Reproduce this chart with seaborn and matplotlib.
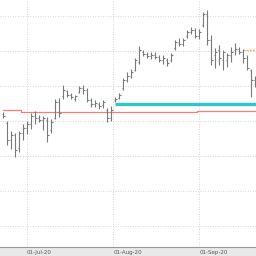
import numpy as np
import pandas as pd
import matplotlib
matplotlib.use("Agg")
import matplotlib.pyplot as plt
import seaborn as sns

# OHLC values (one per trading day)
opens = [21.0, 19.71, 17.29, 18.0, 16.14, 18.29, 19.0, 19.57, 20.71, 20.43,
         20.14, 20.14, 18.71, 20.43, 22.71, 23.57, 24.29, 23.71, 23.14, 24.14,
         24.71, 24.43, 23.0, 22.43, 22.43, 22.29, 21.57, 20.43, 23.0, 23.29,
         24.71, 25.86, 26.43, 27.29, 28.43, 29.86, 29.57, 29.29, 29.43, 29.14,
         28.71, 28.71, 28.71, 30.43, 31.29, 31.0, 32.14, 32.71, 33.0, 32.14,
         33.71, 35.29, 31.57, 29.43, 30.14, 28.71, 28.71, 29.43, 30.14, 30.29,
         29.86, 29.0, 27.29, 25.86]
highs = [21.29, 20.0, 18.57, 18.29, 18.57, 19.57, 20.0, 21.14, 21.43, 20.86,
         20.71, 20.57, 20.29, 23.14, 23.29, 25.14, 24.43, 24.0, 23.71, 25.0,
         25.14, 24.71, 23.29, 23.0, 22.71, 23.0, 21.86, 22.14, 23.43, 24.0,
         26.14, 27.0, 27.43, 29.0, 30.71, 30.14, 29.86, 29.86, 29.86, 29.43,
         29.43, 29.0, 29.71, 31.57, 31.86, 31.86, 33.0, 33.43, 33.29, 33.14,
         35.57, 35.86, 32.29, 30.43, 30.86, 30.14, 29.71, 30.57, 31.14, 30.57,
         30.29, 29.43, 27.43, 26.43]
lows = [20.43, 16.57, 16.0, 14.86, 15.57, 17.29, 18.14, 18.86, 19.57, 19.86,
        18.71, 17.0, 18.29, 20.29, 20.57, 23.14, 23.43, 23.14, 22.86, 24.0,
        23.86, 22.71, 22.0, 22.0, 21.71, 21.86, 19.86, 20.0, 22.71, 23.14,
        24.43, 25.57, 26.14, 27.14, 28.14, 29.29, 29.0, 28.86, 28.86, 28.43,
        28.14, 27.86, 28.43, 30.14, 30.71, 30.71, 31.86, 32.43, 31.86, 31.71,
        33.43, 30.86, 28.0, 27.57, 28.0, 27.29, 27.71, 28.43, 29.43, 29.57,
        28.29, 27.29, 23.43, 24.86]
closes = [20.71, 17.29, 18.0, 15.86, 18.29, 19.0, 19.57, 20.71, 20.43, 20.14,
          20.43, 18.0, 19.86, 22.71, 21.14, 24.43, 23.71, 23.43, 23.57, 24.71,
          24.43, 23.0, 22.43, 22.57, 22.14, 22.71, 20.43, 21.57, 23.14, 23.71,
          25.86, 26.43, 27.0, 28.71, 30.14, 29.57, 29.29, 29.43, 29.14, 28.71,
          29.0, 28.29, 29.43, 31.29, 31.0, 31.57, 32.71, 33.0, 32.14, 32.71,
          35.29, 31.57, 28.71, 29.86, 29.0, 29.86, 29.43, 29.86, 30.29, 29.86,
          29.0, 27.57, 25.86, 25.29]
# Long moving-average line (red)
ma_values = [21.57, 21.57, 21.57, 21.57, 21.57, 21.3, 21.3, 21.3, 21.3, 21.3,
             21.3, 21.22, 21.22, 21.22, 21.22, 21.22, 21.22, 21.22, 21.22, 21.22,
             21.22, 21.22, 21.22, 21.22, 21.22, 21.22, 21.22, 21.22, 21.22, 21.22,
             21.22, 21.22, 21.22, 21.22, 21.22, 21.22, 21.22, 21.22, 21.22, 21.22,
             21.22, 21.22, 21.22, 21.35, 21.35, 21.35, 21.35, 21.35, 21.35, 21.5,
             21.5, 21.5, 21.5, 21.5, 21.5, 21.5, 21.5, 21.5, 21.5, 21.5,
             21.5, 21.5, 21.5, 21.5]
support_level = 22.36      # cyan line
support_start = 27.95
resistance_level = 30.14   # orange dotted line
resistance_start = 59.95
tick_positions = [5.93, 27.5, 49.0]
tick_labels = ["01-Jul-20", "01-Aug-20", "01-Sep-20"]
grid_levels = [5, 10, 15, 20, 25, 30, 35]

n = len(opens)
df = pd.DataFrame({"day": np.arange(n), "open": opens, "high": highs,
                   "low": lows, "close": closes, "ma": ma_values})

sns.set_style("white")
fig = plt.figure(figsize=(2.56, 2.56), dpi=100, facecolor="#e9e9e9")
ax = fig.add_axes([0, 9 / 256, 1, 247 / 256])
ax.set_facecolor("white")

# grid
for g in grid_levels:
    ax.axhline(g, color="#c8c8c8", lw=0.6, ls=(0, (1, 2)), zorder=0)
for t in tick_positions:
    ax.axvline(t, color="#c8c8c8", lw=0.6, ls=(0, (1, 2)), zorder=0)

# MA line
sns.lineplot(data=df, x="day", y="ma", ax=ax, color="#f08078", lw=0.9,
             drawstyle="steps-mid", zorder=2)

# support / resistance
ax.hlines(support_level, support_start, n + 1, color="#2fc6c8", lw=2.4, zorder=3)
ax.hlines(resistance_level, resistance_start, n + 1, color="#f5a04a", lw=0.9,
          ls=(0, (1.5, 1)), zorder=3)

# OHLC bars
bar_col = "#787878"
ax.vlines(df["day"], df["low"], df["high"], color=bar_col, lw=0.8, zorder=4)
ax.hlines(df["open"], df["day"] - 0.3, df["day"], color=bar_col, lw=0.8, zorder=4)
ax.hlines(df["close"], df["day"], df["day"] + 0.3, color=bar_col, lw=0.8, zorder=4)

ax.set_xlim(-0.825, 63.175)
ax.set_ylim(2.0, 37.29)
ax.set_xlabel("")
ax.set_ylabel("")
ax.set_yticks([])
ax.set_xticks(tick_positions)
ax.set_xticklabels(tick_labels, fontsize=4, color="#555555", ha="left")
ax.tick_params(axis="x", length=2, width=0.6, color="#888888", pad=0.5,
               direction="out")
for lbl in ax.get_xticklabels():
    lbl.set_fontfamily(["Liberation Sans Narrow", "DejaVu Sans"])
for s in ["top", "left", "right"]:
    ax.spines[s].set_visible(False)
ax.spines["bottom"].set_color("#9a9a9a")
ax.spines["bottom"].set_linewidth(0.8)

fig.savefig("out.png", dpi=100, facecolor=fig.get_facecolor())
